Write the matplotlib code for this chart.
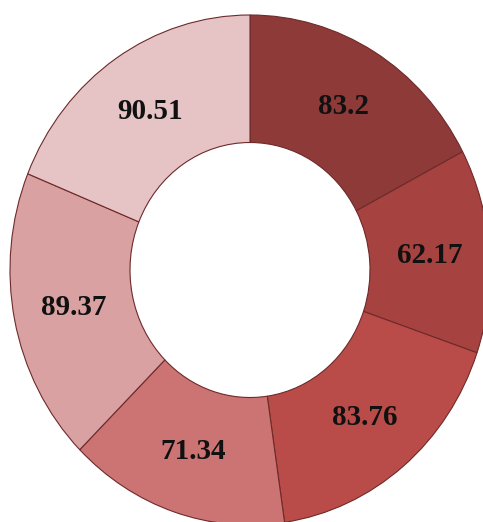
import numpy as np
import matplotlib
matplotlib.use("Agg")
import matplotlib.pyplot as plt

values = [83.2, 62.17, 83.76, 71.34, 89.37, 90.51]
labels = ["83.2", "62.17", "83.76", "71.34", "89.37", "90.51"]
colors = ["#8d3a39", "#a6423f", "#b94c48", "#cb7473", "#d9a1a2", "#e6c4c6"]

fig = plt.figure(figsize=(4.83, 5.22), dpi=100)
ax = fig.add_axes([0, 0, 1, 1])

wedges, _ = ax.pie(
    values,
    colors=colors,
    startangle=90,
    counterclock=False,
    radius=1.0,
    wedgeprops=dict(width=0.5, edgecolor="#6e2a2a", linewidth=0.8),
)

for w, lab in zip(wedges, labels):
    mid = np.deg2rad((w.theta1 + w.theta2) / 2)
    ax.text(0.75 * np.cos(mid), 0.75 * np.sin(mid), lab,
            ha="center", va="center", fontsize=21, fontweight="bold",
            family="Liberation Serif", color="#111111")

# slightly stretched vertically, right edge clipped by the canvas
ax.set_aspect("auto")
ax.set_xlim(-250 / 240, 233 / 240)
ax.set_ylim(-252 / 255, 270 / 255)
ax.axis("off")

fig.savefig("out.png", dpi=100)
